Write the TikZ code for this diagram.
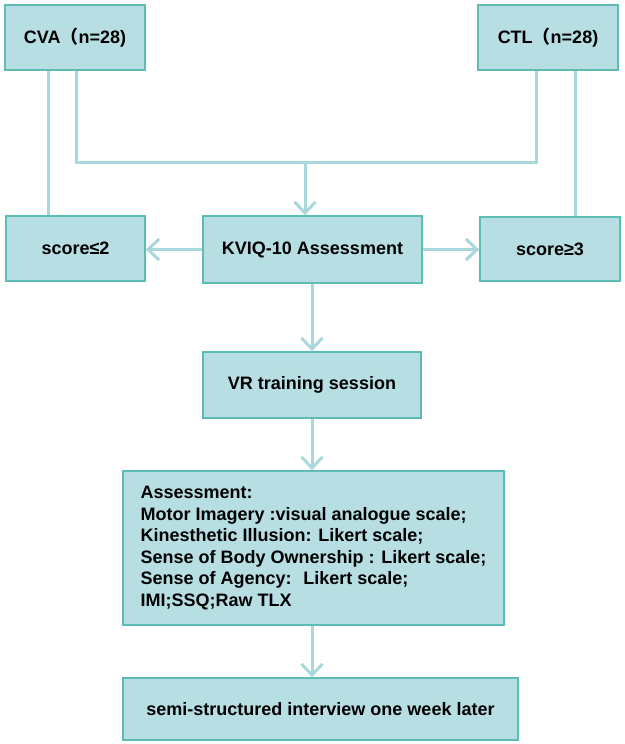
\documentclass[tikz,border=0pt]{standalone}
\usepackage{fontspec}
\setmainfont{Liberation Sans}
\newfontfamily\cjk{Noto Sans CJK SC}
\definecolor{boxfill}{RGB}{183, 223, 227}
\definecolor{boxedge}{RGB}{93, 189, 180}
\definecolor{linkblue}{RGB}{168, 216, 220}
\usetikzlibrary{arrows.meta, calc}

\begin{document}
\begin{tikzpicture}[
  x=1pt, y=-1pt,
  fbox/.style={draw=boxedge, fill=boxfill, line width=1.8pt, inner sep=0pt,
    font=\fontsize{18}{21.6}\selectfont\bfseries},
  link/.style={draw=linkblue, line width=3pt},
  flow/.style={link, -{Straight Barb[length=11pt, width=21pt]}}
]
  \useasboundingbox (0, 0) rectangle (624, 744);

  \node[fbox, minimum width=140, minimum height=65] (cva) at (75, 37.5) {CVA{\cjk （}n=28)};
  \node[fbox, minimum width=140, minimum height=65] (ctl) at (548, 37.5) {CTL{\cjk （}n=28)};
  \node[fbox, minimum width=139, minimum height=65] (low) at (75.5, 248.5) {score≤2};
  \node[fbox, minimum width=219, minimum height=67] (kviq) at (312.5, 249.5) {KVIQ-10 Assessment};
  \node[fbox, minimum width=140, minimum height=64] (high) at (550, 249) {score≥3};
  \node[fbox, minimum width=218, minimum height=66] (vr) at (312, 385) {VR training session};
  \node[fbox, minimum width=381, minimum height=154, align=left] (assess) at (313.5, 548) {
    Assessment:\\
    Motor Imagery :visual analogue scale;\\
    Kinesthetic Illusion: Likert scale;\\
    Sense of Body Ownership : Likert scale;\\
    Sense of Agency:~ Likert scale;\\
    IMI;SSQ;Raw TLX
  };
  \node[fbox, minimum width=395, minimum height=62] (interview) at (320.5, 709) {semi-structured interview one week later};

  \coordinate (merge) at (305, 162);
  \draw[link] ([xshift=-27pt]cva.south) -- ([xshift=-27pt]cva.south |- low.north);
  \draw[link] ([xshift=27pt]ctl.south) -- ([xshift=27pt]ctl.south |- high.north);
  \draw[link] ([xshift=1pt]cva.south) |- (merge) -| ([xshift=-12pt]ctl.south);
  \draw[flow] (merge) -- (merge |- kviq.north);
  \draw[flow] (kviq.west) -- (kviq.west -| low.east);
  \draw[flow] (kviq.east) -- (kviq.east -| high.west);
  \draw[flow] (vr.north |- kviq.south) -- (vr.north);
  \draw[flow] (vr.south) -- (vr.south |- assess.north);
  \draw[flow] (vr.south |- assess.south) -- (vr.south |- interview.north);
\end{tikzpicture}
\end{document}
